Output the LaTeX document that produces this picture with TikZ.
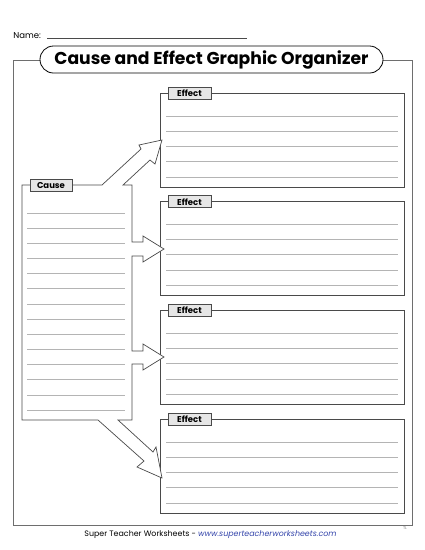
\documentclass[tikz,border=0pt]{standalone}
\usepackage{fontspec}
\setmainfont{Poppins}
\usepackage{tikz}
\usetikzlibrary{calc}
\definecolor{boxgray}{HTML}{4A4A4A}
\definecolor{rulegray}{HTML}{B4B4B4}
\definecolor{tabfill}{HTML}{E6E6E6}
\definecolor{linkblue}{HTML}{3344AA}
\tikzset{
  tab/.style={draw=boxgray,fill=tabfill,line width=0.7pt,minimum width=43pt,minimum height=12pt,inner sep=0pt,font=\fontsize{8.5}{9}\selectfont\bfseries},
  ruled/.style={rulegray,line width=0.6pt}
}

\begin{document}
\begin{tikzpicture}[x=1pt,y=-1pt,line width=0.6pt]
  \useasboundingbox (0,0) rectangle (425,550);
  % name line
  \node[anchor=base west,inner sep=0pt,font=\fontsize{8.5}{9}\selectfont] (name) at (13,38) {Name:};
  \draw[boxgray] (47,38) -- (247,38);
  % outer frame and title
  \draw[boxgray!80,line width=0.8pt] (13,60) rectangle (412,525);
  \node[draw=black,fill=white,line width=0.8pt,rounded corners=13.5pt,minimum width=343pt,minimum height=27pt,inner sep=0pt,font=\fontsize{17.2}{19}\selectfont\bfseries] (title) at (211.5,59.5) {Cause and Effect Graphic Organizer};
  % effect boxes
  \foreach \t [count=\i] in {93,201.7,310.4,419.1} {
    \draw[boxgray,line width=0.7pt] (160,\t) rectangle (404,\t+94);
    \foreach \d in {23,38,53,68.5,84}
      \draw[ruled] (166,\t+\d) -- (398,\t+\d);
    \node[tab] (e\i) at (189.5,\t) {Effect};
  }
  % cause box with its four arrows
  \draw[boxgray,fill=white,line width=0.7pt,line join=miter]
    (22,185) -- (102,185) -- (141,149) -- (139,145) -- (162,140) -- (155,164) -- (150,160) -- (123,185)
    -- (132,185) -- (132,242) -- (143,242) -- (143,236) -- (164,249) -- (143,262) -- (143,256) -- (132,256)
    -- (132,351) -- (143,351) -- (143,344) -- (164,357) -- (143,370) -- (143,364) -- (132,364)
    -- (132,420) -- (118,420) -- (153,452) -- (156,447) -- (162,478) -- (137,467) -- (144,461) -- (98,420)
    -- (22,420) -- cycle;
  \foreach \k in {0,...,13}
    \draw[ruled] (27,213+15.15*\k) -- (125,213+15.15*\k);
  \node[tab,minimum width=42pt] (cause) at (51,185.5) {Cause};
  % footer
  \node[inner sep=0pt,font=\fontsize{7.9}{9}\selectfont] (foot) at (210.5,535) {Super Teacher Worksheets - \textcolor{linkblue}{\itshape www.superteacherworksheets.com}};
  \node[inner sep=0pt,font=\fontsize{4}{4}\selectfont,gray] (tl) at (405,528) {TL};
\end{tikzpicture}
\end{document}
